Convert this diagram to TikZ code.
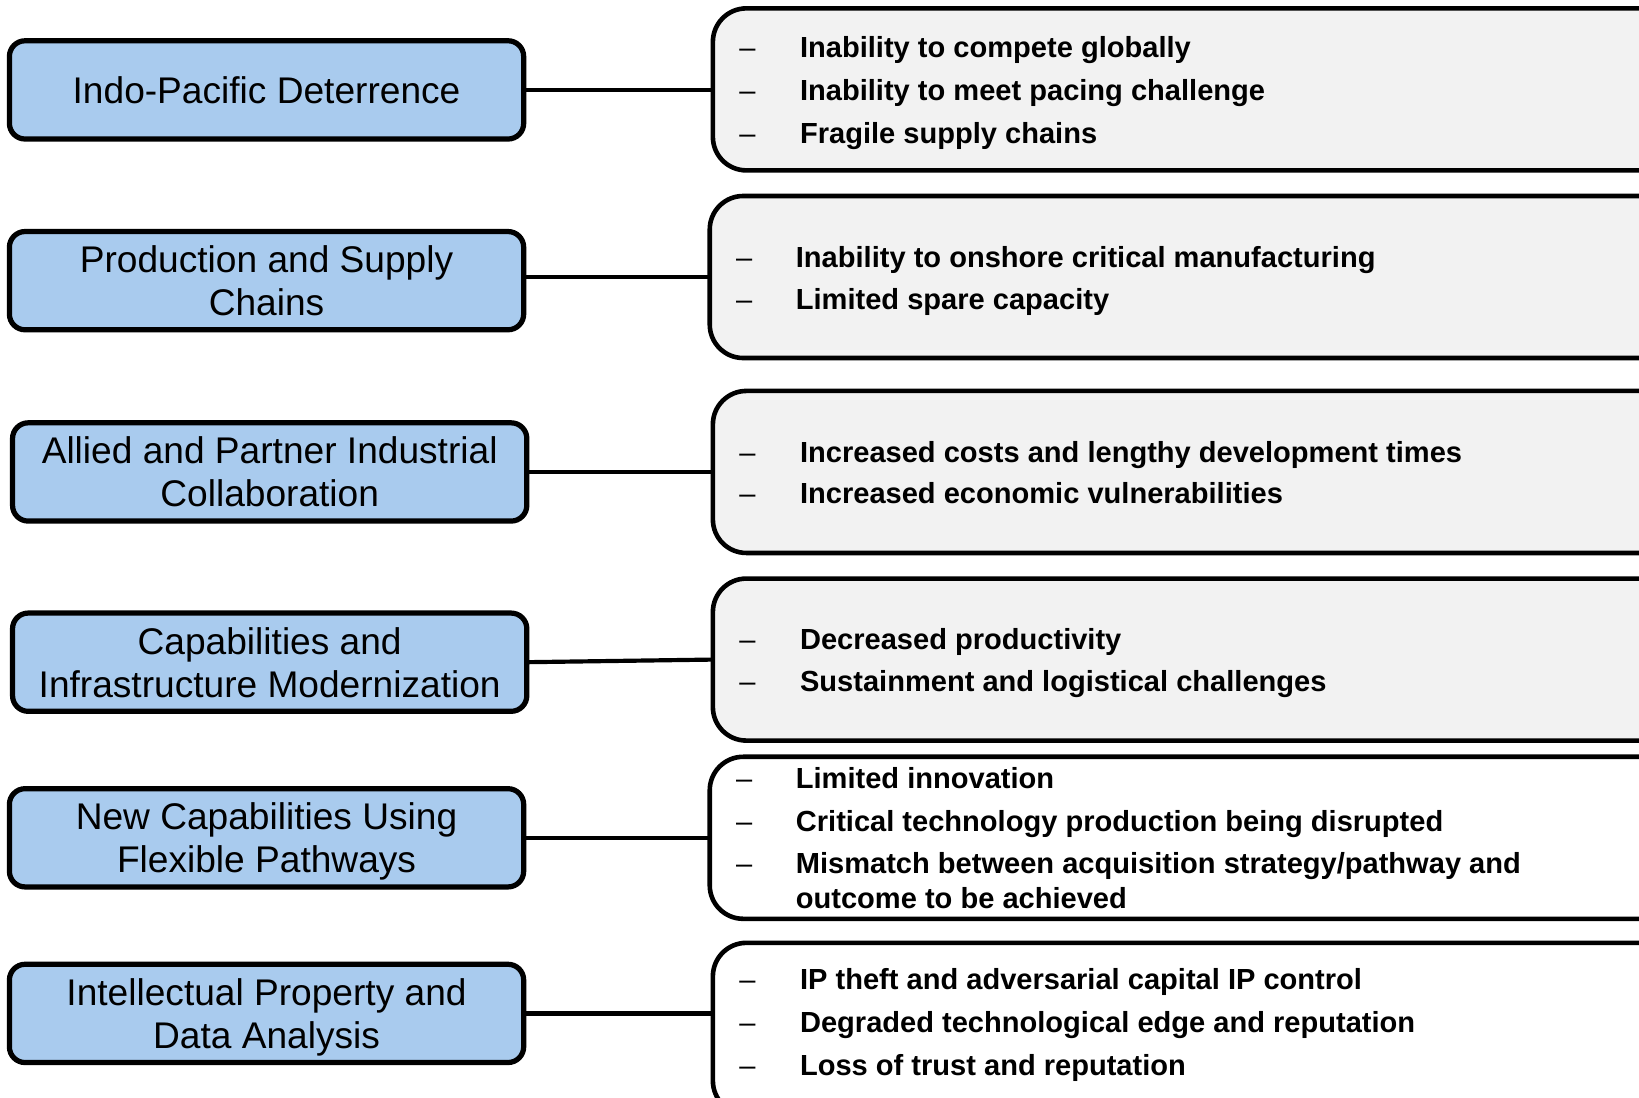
\documentclass[tikz,border=0pt]{standalone}
\usepackage{fontspec}
\setmainfont{Liberation Sans}
\definecolor{boxblue}{HTML}{A9CBEE}
\definecolor{boxgrey}{HTML}{F2F2F2}
\begin{document}
\begin{tikzpicture}[x=0.5pt,y=-0.5pt,
  topic/.style={draw=black, line width=2.5pt, fill=boxblue, rounded corners=7.5pt,
    minimum width=246pt, minimum height=47pt, align=center, inner sep=0pt, outer sep=0pt,
    text depth=0pt, font=\fontsize{17.75}{20.5}\selectfont},
  effect/.style={draw=black, line width=2.2pt, rounded corners=16pt, anchor=west,
    minimum width=520pt, minimum height=77.5pt, inner sep=0pt, outer sep=0pt},
  link/.style={line width=2pt},
  item/.style={anchor=base west, inner sep=0pt, font=\fontsize{13.9}{16}\selectfont\bfseries},
  dashmark/.style={anchor=base, inner sep=0pt, font=\fontsize{13.9}{16}\selectfont}]
\useasboundingbox (0,0) rectangle (1568,1050);
\clip (0,0) rectangle (1568,1050);

% right boxes
\node[effect, fill=boxgrey] (r1) at (682,85.5) {};
\node[effect, fill=boxgrey] (r2) at (679,265) {};
\node[effect, fill=boxgrey] (r3) at (682,451.5) {};
\node[effect, fill=boxgrey] (r4) at (682,631) {};
\node[effect, fill=white] (r5) at (679,801.5) {};
\node[effect, fill=white, minimum height=82pt] (r6) at (682,984) {};

% left boxes
\node[topic] (t1) at (255,86) {Indo-Pacific Deterrence};
\node[topic] (t2) at (255,268.5) {Production and Supply\\Chains};
\node[topic] (t3) at (258,451.5) {Allied and Partner Industrial\\Collaboration};
\node[topic] (t4) at (258,633.5) {Capabilities and\\Infrastructure Modernization};
\node[topic] (t5) at (255,801.5) {New Capabilities Using\\Flexible Pathways};
\node[topic] (t6) at (255,969.5) {Intellectual Property and\\Data Analysis};

% connectors
\draw[link] (t1.east) -- (t1.east -| r1.west);
\draw[link] (t2.east |- r2.west) -- (r2.west);
\draw[link] (t3.east) -- (r3.west);
\draw[link] (t4.east) -- (r4.west);
\draw[link] (t5.east) -- (r5.west);
\draw[link] (t6.east) -- (t6.east -| r6.west);

% box 1 items
\node[dashmark] (d11) at (715,55) {–};
\node[item] (i11) at (765,55) {Inability to compete globally};
\node[dashmark] (d12) at (715,96) {–};
\node[item] (i12) at (765,96) {Inability to meet pacing challenge};
\node[dashmark] (d13) at (715,137) {–};
\node[item] (i13) at (765,137) {Fragile supply chains};

% box 2 items
\node[dashmark] (d21) at (712,256) {–};
\node[item] (i21) at (761,256) {Inability to onshore critical manufacturing};
\node[dashmark] (d22) at (712,296) {–};
\node[item] (i22) at (761,296) {Limited spare capacity};

% box 3 items
\node[dashmark] (d31) at (715,442) {–};
\node[item] (i31) at (765,442) {Increased costs and lengthy development times};
\node[dashmark] (d32) at (715,482) {–};
\node[item] (i32) at (765,482) {Increased economic vulnerabilities};

% box 4 items
\node[dashmark] (d41) at (715,621) {–};
\node[item] (i41) at (765,621) {Decreased productivity};
\node[dashmark] (d42) at (715,662) {–};
\node[item] (i42) at (765,662) {Sustainment and logistical challenges};

% box 5 items
\node[dashmark] (d51) at (712,754) {–};
\node[item] (i51) at (761,754) {Limited innovation};
\node[dashmark] (d52) at (712,795) {–};
\node[item] (i52) at (761,795) {Critical technology production being disrupted};
\node[dashmark] (d53) at (712,836) {–};
\node[item] (i53) at (761,836) {Mismatch between acquisition strategy/pathway and};
\node[item] (i54) at (761,869) {outcome to be achieved};

% box 6 items
\node[dashmark] (d61) at (715,947) {–};
\node[item] (i61) at (765,947) {IP theft and adversarial capital IP control};
\node[dashmark] (d62) at (715,988) {–};
\node[item] (i62) at (765,988) {Degraded technological edge and reputation};
\node[dashmark] (d63) at (715,1029) {–};
\node[item] (i63) at (765,1029) {Loss of trust and reputation};
\end{tikzpicture}
\end{document}
